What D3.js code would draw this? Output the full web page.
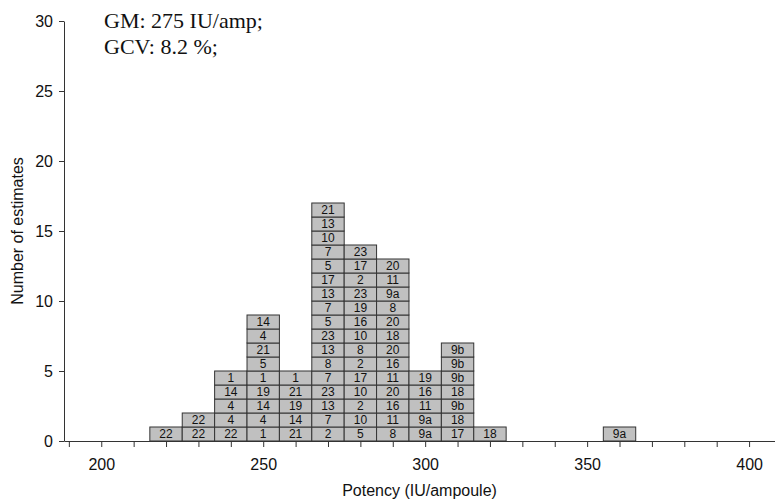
<!DOCTYPE html>
<html>
<head>
<meta charset="utf-8">
<script src="https://cdn.jsdelivr.net/npm/d3@7"></script>
<style>
  body { margin: 0; background: #fff; }
  svg { display: block; }
</style>
</head>
<body>
<div id="chart"></div>
<script>
(function() {

const width = 775,
      height = 502

// bin centres (IU/ampoule) and the lab codes stacked in each bin, bottom to top
const binCenters = [220, 230, 240, 250, 260, 270, 280, 290, 300, 310, 320, 360]
const stacks = [
  ['22'],
  ['22', '22'],
  ['22', '4', '4', '14', '1'],
  ['1', '4', '14', '19', '1', '5', '21', '4', '14'],
  ['21', '14', '19', '21', '1'],
  ['2', '7', '13', '23', '7', '8', '13', '23', '5', '7', '13', '17', '5', '7', '10', '13', '21'],
  ['5', '10', '2', '10', '17', '2', '8', '10', '16', '19', '23', '2', '17', '23'],
  ['8', '11', '16', '20', '11', '16', '20', '18', '20', '8', '9a', '11', '20'],
  ['9a', '9a', '11', '16', '19'],
  ['17', '18', '9b', '18', '9b', '9b', '9b'],
  ['18'],
  ['9a']
]
const binWidth = 10
const xTicks = d3.range(190, 401, 10)
const xLabels = [200, 250, 300, 350, 400]
const yTicks = [0, 5, 10, 15, 20, 25, 30]
const notes = ['GM: 275 IU/amp;', 'GCV: 8.2 %;']

const svg = d3.select('#chart')
  .append('svg')
  .attr('width', width)
  .attr('height', height)

const x = d3.scaleLinear()
  .domain([188.5, 408])
  .range([64, 775])

const y = d3.scaleLinear()
  .domain([0, 30])
  .range([441, 21])

// flatten stacks into boxes
const boxes = []
binCenters.forEach(function(c, i) {
  stacks[i].forEach(function(lab, j) {
    boxes.push({ center: c, level: j, label: lab })
  })
})

const box = svg.selectAll('.box')
  .data(boxes)
  .enter()
  .append('g')
  .attr('class', 'box')

box.append('rect')
  .attr('x', function(d) { return x(d.center - binWidth / 2) })
  .attr('y', function(d) { return y(d.level + 1) })
  .attr('width', function(d) { return x(d.center + binWidth / 2) - x(d.center - binWidth / 2) })
  .attr('height', function(d) { return y(d.level) - y(d.level + 1) })
  .attr('fill', '#c0c0c0')
  .attr('stroke', '#333')
  .attr('stroke-width', 1)

box.append('text')
  .attr('x', function(d) { return x(d.center) })
  .attr('y', function(d) { return (y(d.level) + y(d.level + 1)) / 2 })
  .attr('dy', '0.36em')
  .attr('text-anchor', 'middle')
  .style('font-family', 'Liberation Sans, Arial, sans-serif')
  .style('font-size', '12px')
  .attr('fill', '#111')
  .text(function(d) { return d.label })

// x axis
const xAxis = svg.append('g')
  .attr('transform', 'translate(0,' + y(0) + ')')
  .call(d3.axisBottom(x)
    .tickValues(xTicks)
    .tickSize(6)
    .tickSizeOuter(0)
    .tickFormat(function(d) { return xLabels.indexOf(d) >= 0 ? d : '' }))
xAxis.select('.domain').attr('stroke', '#333')
xAxis.selectAll('.tick line').attr('stroke', '#333')
xAxis.selectAll('.tick text')
  .attr('y', 18)
  .attr('fill', '#111')
  .style('font-family', 'Liberation Sans, Arial, sans-serif')
  .style('font-size', '16px')

// y axis
const yAxis = svg.append('g')
  .attr('transform', 'translate(' + x.range()[0] + ',0)')
  .call(d3.axisLeft(y)
    .tickValues(yTicks)
    .tickSize(5)
    .tickSizeOuter(0)
    .tickPadding(6))
yAxis.select('.domain').attr('stroke', '#333')
yAxis.selectAll('.tick line').attr('stroke', '#333')
yAxis.selectAll('.tick text')
  .attr('fill', '#111')
  .style('font-family', 'Liberation Sans, Arial, sans-serif')
  .style('font-size', '16px')

// axis titles
svg.append('text')
  .attr('x', (x.range()[0] + x.range()[1]) / 2)
  .attr('y', 496)
  .attr('text-anchor', 'middle')
  .style('font-family', 'Liberation Sans, Arial, sans-serif')
  .style('font-size', '16px')
  .attr('fill', '#111')
  .text('Potency (IU/ampoule)')

svg.append('text')
  .attr('transform', 'translate(17,' + y(15) + ') rotate(-90)')
  .attr('dy', '0.35em')
  .attr('text-anchor', 'middle')
  .style('font-family', 'Liberation Sans, Arial, sans-serif')
  .style('font-size', '16px')
  .attr('fill', '#111')
  .text('Number of estimates')

// summary notes
svg.selectAll('.note')
  .data(notes)
  .enter()
  .append('text')
  .attr('class', 'note')
  .attr('x', 104)
  .attr('y', function(d, i) { return 28 + i * 26 })
  .style('font-family', 'Liberation Serif, Times New Roman, serif')
  .style('font-size', '22px')
  .attr('fill', '#111')
  .text(function(d) { return d })

})()
</script>
</body>
</html>
